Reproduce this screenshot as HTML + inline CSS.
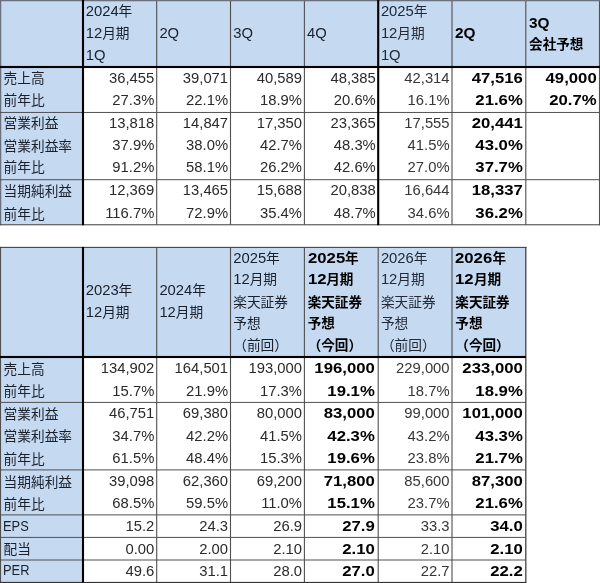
<!DOCTYPE html>
<html lang="ja"><head><meta charset="utf-8"><title>業績推移</title>
<style>
html,body{margin:0;padding:0;background:#fff}
body{width:600px;height:583px;position:relative;overflow:hidden;will-change:transform;font-family:"Liberation Sans","Noto Sans CJK JP",sans-serif;font-size:14.8px;color:#2a2a2a}
#grid{position:absolute;left:0;top:0}
.h,.n{position:absolute;white-space:nowrap;height:22px;line-height:22px}
.n{text-align:right}
.n.b{transform:scaleX(1.13);transform-origin:100% 50%}
.c{display:inline-block;transform:scaleX(0.87);transform-origin:0 50%}
.w{display:inline-block;transform:scaleX(1.13);transform-origin:0 50%}
.h{color:#1a202b}
.b{font-weight:bold;color:#000}
.l{color:#363636}
.h.l{color:#232936}
.j{font-family:"Liberation Sans","Noto Sans CJK JP",sans-serif;font-size:13.7px}
.b .j{font-size:13.6px}
</style></head><body>
<svg id="grid" width="600" height="583" viewBox="0 0 600 583"><rect x="0" y="0" width="599.5" height="67" fill="#c5d9f1"/><rect x="0" y="0" width="83" height="224.75" fill="#c5d9f1"/><rect x="156.14999999999998" y="0" width="1.1" height="224.75" fill="#505050"/><rect x="229.95" y="0" width="1.1" height="224.75" fill="#505050"/><rect x="303.84999999999997" y="0" width="1.1" height="224.75" fill="#505050"/><rect x="451.45" y="0" width="1.1" height="224.75" fill="#505050"/><rect x="525.25" y="0" width="1.1" height="224.75" fill="#505050"/><rect x="598.95" y="0" width="1.1" height="225.25" fill="#505050"/><rect x="-0.050000000000000044" y="0" width="1.3" height="225.25" fill="#6a717c"/><rect x="0" y="-0.050000000000000044" width="600" height="1.3" fill="#6a717c"/><rect x="0" y="111.95" width="600" height="1.0" fill="#505050"/><rect x="0" y="179.2" width="600" height="1.0" fill="#505050"/><rect x="0" y="224.2" width="600" height="1.1" fill="#505050"/><rect x="81.95" y="0" width="2.1" height="225.25" fill="#000"/><rect x="377.15" y="0" width="2.1" height="225.25" fill="#000"/><rect x="0" y="65.95" width="600" height="2.1" fill="#000"/><rect x="0" y="247.4" width="525.8" height="109.6" fill="#c5d9f1"/><rect x="0" y="247.4" width="83" height="335.05000000000007" fill="#c5d9f1"/><rect x="156.14999999999998" y="247.4" width="1.1" height="335.05000000000007" fill="#505050"/><rect x="229.95" y="247.4" width="1.1" height="335.05000000000007" fill="#505050"/><rect x="303.84999999999997" y="247.4" width="1.1" height="335.05000000000007" fill="#505050"/><rect x="377.65" y="247.4" width="1.1" height="335.05000000000007" fill="#505050"/><rect x="451.45" y="247.4" width="1.1" height="335.05000000000007" fill="#505050"/><rect x="525.15" y="246.9" width="1.3" height="335.55000000000007" fill="#444"/><rect x="-0.050000000000000044" y="246.9" width="1.1" height="335.55000000000007" fill="#505050"/><rect x="0" y="246.85" width="526.4" height="1.1" fill="#444"/><rect x="0" y="401.9" width="525.8" height="1.0" fill="#505050"/><rect x="0" y="469.4" width="525.8" height="1.0" fill="#505050"/><rect x="0" y="514.4" width="525.8" height="1.0" fill="#505050"/><rect x="0" y="536.9" width="525.8" height="1.0" fill="#505050"/><rect x="0" y="559.5" width="525.8" height="1.0" fill="#505050"/><rect x="0" y="581.9000000000001" width="526.4" height="1.1" fill="#333"/><rect x="81.95" y="246.9" width="2.1" height="335.55000000000007" fill="#000"/><rect x="0" y="355.95" width="525.8" height="2.1" fill="#000"/></svg>
<div class="h" style="left:85.7px;top:0px">2024<span class="j">年</span></div>
<div class="h" style="left:85.7px;top:22px">12<span class="j">月期</span></div>
<div class="h" style="left:85.7px;top:44px">1Q</div>
<div class="h" style="left:159.4px;top:22px">2Q</div>
<div class="h" style="left:233.2px;top:22px">3Q</div>
<div class="h" style="left:307.1px;top:22px">4Q</div>
<div class="h l" style="left:380.9px;top:0px">2025<span class="j">年</span></div>
<div class="h l" style="left:380.9px;top:22px">12<span class="j">月期</span></div>
<div class="h l" style="left:380.9px;top:44px">1Q</div>
<div class="h b" style="left:455.3px;top:22px"><span class="w" style="transform:scaleX(1.04);margin-right:0.79px">2Q</span></div>
<div class="h b" style="left:529.1px;top:12px"><span class="w" style="transform:scaleX(1.04);margin-right:0.79px">3Q</span></div>
<div class="h b" style="left:529.1px;top:33px"><span class="j">会社予想</span></div>
<div class="h" style="left:3.6px;top:67px"><span class="j">売上高</span></div>
<div class="n" style="left:83px;top:67px;width:71.30px">36,455</div>
<div class="n" style="left:156.7px;top:67px;width:71.40px">39,071</div>
<div class="n" style="left:230.5px;top:67px;width:71.50px">40,589</div>
<div class="n" style="left:304.4px;top:67px;width:71.40px">48,385</div>
<div class="n l" style="left:378.2px;top:67px;width:71.40px">42,314</div>
<div class="n b" style="left:452.0px;top:67px;width:70.80px">47,516</div>
<div class="n b" style="left:525.8px;top:67px;width:70.70px">49,000</div>
<div class="h" style="left:3.6px;top:89px"><span class="j">前年比</span></div>
<div class="n" style="left:83px;top:89px;width:71.30px">27.3%</div>
<div class="n" style="left:156.7px;top:89px;width:71.40px">22.1%</div>
<div class="n" style="left:230.5px;top:89px;width:71.50px">18.9%</div>
<div class="n" style="left:304.4px;top:89px;width:71.40px">20.6%</div>
<div class="n l" style="left:378.2px;top:89px;width:71.40px">16.1%</div>
<div class="n b" style="left:452.0px;top:89px;width:70.80px">21.6%</div>
<div class="n b" style="left:525.8px;top:89px;width:70.70px">20.7%</div>
<div class="h" style="left:3.6px;top:112px"><span class="j">営業利益</span></div>
<div class="n" style="left:83px;top:112px;width:71.30px">13,818</div>
<div class="n" style="left:156.7px;top:112px;width:71.40px">14,847</div>
<div class="n" style="left:230.5px;top:112px;width:71.50px">17,350</div>
<div class="n" style="left:304.4px;top:112px;width:71.40px">23,365</div>
<div class="n l" style="left:378.2px;top:112px;width:71.40px">17,555</div>
<div class="n b" style="left:452.0px;top:112px;width:70.80px">20,441</div>
<div class="h" style="left:3.6px;top:135px"><span class="j">営業利益率</span></div>
<div class="n" style="left:83px;top:134px;width:71.30px">37.9%</div>
<div class="n" style="left:156.7px;top:134px;width:71.40px">38.0%</div>
<div class="n" style="left:230.5px;top:134px;width:71.50px">42.7%</div>
<div class="n" style="left:304.4px;top:134px;width:71.40px">48.3%</div>
<div class="n l" style="left:378.2px;top:134px;width:71.40px">41.5%</div>
<div class="n b" style="left:452.0px;top:134px;width:70.80px">43.0%</div>
<div class="h" style="left:3.6px;top:156px"><span class="j">前年比</span></div>
<div class="n" style="left:83px;top:156px;width:71.30px">91.2%</div>
<div class="n" style="left:156.7px;top:156px;width:71.40px">58.1%</div>
<div class="n" style="left:230.5px;top:156px;width:71.50px">26.2%</div>
<div class="n" style="left:304.4px;top:156px;width:71.40px">42.6%</div>
<div class="n l" style="left:378.2px;top:156px;width:71.40px">27.0%</div>
<div class="n b" style="left:452.0px;top:156px;width:70.80px">37.7%</div>
<div class="h" style="left:3.6px;top:180px"><span class="j">当期純利益</span></div>
<div class="n" style="left:83px;top:179px;width:71.30px">12,369</div>
<div class="n" style="left:156.7px;top:179px;width:71.40px">13,465</div>
<div class="n" style="left:230.5px;top:179px;width:71.50px">15,688</div>
<div class="n" style="left:304.4px;top:179px;width:71.40px">20,838</div>
<div class="n l" style="left:378.2px;top:179px;width:71.40px">16,644</div>
<div class="n b" style="left:452.0px;top:179px;width:70.80px">18,337</div>
<div class="h" style="left:3.6px;top:203px"><span class="j">前年比</span></div>
<div class="n" style="left:83px;top:202px;width:71.30px">116.7%</div>
<div class="n" style="left:156.7px;top:202px;width:71.40px">72.9%</div>
<div class="n" style="left:230.5px;top:202px;width:71.50px">35.4%</div>
<div class="n" style="left:304.4px;top:202px;width:71.40px">48.7%</div>
<div class="n l" style="left:378.2px;top:202px;width:71.40px">34.6%</div>
<div class="n b" style="left:452.0px;top:202px;width:70.80px">36.2%</div>
<div class="h" style="left:85.7px;top:279px">2023<span class="j">年</span></div>
<div class="h" style="left:85.7px;top:301px">12<span class="j">月期</span></div>
<div class="h" style="left:159.4px;top:279px">2024<span class="j">年</span></div>
<div class="h" style="left:159.4px;top:301px">12<span class="j">月期</span></div>
<div class="h" style="left:233.2px;top:247px">2025<span class="j">年</span></div>
<div class="h" style="left:233.2px;top:268px">12<span class="j">月期</span></div>
<div class="h" style="left:233.2px;top:291px"><span class="j">楽天証券</span></div>
<div class="h" style="left:233.2px;top:312px"><span class="j">予想</span></div>
<div class="h" style="left:233.2px;top:334px"><span class="j">（前回）</span></div>
<div class="h b" style="left:307.7px;top:247px"><span class="w" style="margin-right:4.28px">2025</span><span class="j">年</span></div>
<div class="h b" style="left:307.7px;top:268px"><span class="w" style="margin-right:2.14px">12</span><span class="j">月期</span></div>
<div class="h b" style="left:307.7px;top:291px"><span class="j">楽天証券</span></div>
<div class="h b" style="left:307.7px;top:312px"><span class="j">予想</span></div>
<div class="h b" style="left:307.7px;top:334px"><span class="j">（今回）</span></div>
<div class="h l" style="left:380.9px;top:247px">2026<span class="j">年</span></div>
<div class="h l" style="left:380.9px;top:268px">12<span class="j">月期</span></div>
<div class="h l" style="left:380.9px;top:291px"><span class="j">楽天証券</span></div>
<div class="h l" style="left:380.9px;top:312px"><span class="j">予想</span></div>
<div class="h l" style="left:380.9px;top:334px"><span class="j">（前回）</span></div>
<div class="h b" style="left:455.3px;top:247px"><span class="w" style="margin-right:4.28px">2026</span><span class="j">年</span></div>
<div class="h b" style="left:455.3px;top:268px"><span class="w" style="margin-right:2.14px">12</span><span class="j">月期</span></div>
<div class="h b" style="left:455.3px;top:291px"><span class="j">楽天証券</span></div>
<div class="h b" style="left:455.3px;top:312px"><span class="j">予想</span></div>
<div class="h b" style="left:455.3px;top:334px"><span class="j">（今回）</span></div>
<div class="h" style="left:3.6px;top:358px"><span class="j">売上高</span></div>
<div class="n" style="left:83px;top:357px;width:71.30px">134,902</div>
<div class="n" style="left:156.7px;top:357px;width:71.40px">164,501</div>
<div class="n" style="left:230.5px;top:357px;width:71.50px">193,000</div>
<div class="n b" style="left:304.4px;top:357px;width:70.80px">196,000</div>
<div class="n l" style="left:378.2px;top:357px;width:71.40px">229,000</div>
<div class="n b" style="left:452.0px;top:357px;width:70.80px">233,000</div>
<div class="h" style="left:3.6px;top:380px"><span class="j">前年比</span></div>
<div class="n" style="left:83px;top:380px;width:71.30px">15.7%</div>
<div class="n" style="left:156.7px;top:380px;width:71.40px">21.9%</div>
<div class="n" style="left:230.5px;top:380px;width:71.50px">17.3%</div>
<div class="n b" style="left:304.4px;top:380px;width:70.80px">19.1%</div>
<div class="n l" style="left:378.2px;top:380px;width:71.40px">18.7%</div>
<div class="n b" style="left:452.0px;top:380px;width:70.80px">18.9%</div>
<div class="h" style="left:3.6px;top:403px"><span class="j">営業利益</span></div>
<div class="n" style="left:83px;top:402px;width:71.30px">46,751</div>
<div class="n" style="left:156.7px;top:402px;width:71.40px">69,380</div>
<div class="n" style="left:230.5px;top:402px;width:71.50px">80,000</div>
<div class="n b" style="left:304.4px;top:402px;width:70.80px">83,000</div>
<div class="n l" style="left:378.2px;top:402px;width:71.40px">99,000</div>
<div class="n b" style="left:452.0px;top:402px;width:70.80px">101,000</div>
<div class="h" style="left:3.6px;top:425px"><span class="j">営業利益率</span></div>
<div class="n" style="left:83px;top:425px;width:71.30px">34.7%</div>
<div class="n" style="left:156.7px;top:425px;width:71.40px">42.2%</div>
<div class="n" style="left:230.5px;top:425px;width:71.50px">41.5%</div>
<div class="n b" style="left:304.4px;top:425px;width:70.80px">42.3%</div>
<div class="n l" style="left:378.2px;top:425px;width:71.40px">43.2%</div>
<div class="n b" style="left:452.0px;top:425px;width:70.80px">43.3%</div>
<div class="h" style="left:3.6px;top:448px"><span class="j">前年比</span></div>
<div class="n" style="left:83px;top:447px;width:71.30px">61.5%</div>
<div class="n" style="left:156.7px;top:447px;width:71.40px">48.4%</div>
<div class="n" style="left:230.5px;top:447px;width:71.50px">15.3%</div>
<div class="n b" style="left:304.4px;top:447px;width:70.80px">19.6%</div>
<div class="n l" style="left:378.2px;top:447px;width:71.40px">23.8%</div>
<div class="n b" style="left:452.0px;top:447px;width:70.80px">21.7%</div>
<div class="h" style="left:3.6px;top:471px"><span class="j">当期純利益</span></div>
<div class="n" style="left:83px;top:470px;width:71.30px">39,098</div>
<div class="n" style="left:156.7px;top:470px;width:71.40px">62,360</div>
<div class="n" style="left:230.5px;top:470px;width:71.50px">69,200</div>
<div class="n b" style="left:304.4px;top:470px;width:70.80px">71,800</div>
<div class="n l" style="left:378.2px;top:470px;width:71.40px">85,600</div>
<div class="n b" style="left:452.0px;top:470px;width:70.80px">87,300</div>
<div class="h" style="left:3.6px;top:493px"><span class="j">前年比</span></div>
<div class="n" style="left:83px;top:492px;width:71.30px">68.5%</div>
<div class="n" style="left:156.7px;top:492px;width:71.40px">59.5%</div>
<div class="n" style="left:230.5px;top:492px;width:71.50px">11.0%</div>
<div class="n b" style="left:304.4px;top:492px;width:70.80px">15.1%</div>
<div class="n l" style="left:378.2px;top:492px;width:71.40px">23.7%</div>
<div class="n b" style="left:452.0px;top:492px;width:70.80px">21.6%</div>
<div class="h" style="left:3.4px;top:515px"><span class="c">EPS</span></div>
<div class="n" style="left:83px;top:515px;width:71.30px">15.2</div>
<div class="n" style="left:156.7px;top:515px;width:71.40px">24.3</div>
<div class="n" style="left:230.5px;top:515px;width:71.50px">26.9</div>
<div class="n b" style="left:304.4px;top:515px;width:70.80px">27.9</div>
<div class="n l" style="left:378.2px;top:515px;width:71.40px">33.3</div>
<div class="n b" style="left:452.0px;top:515px;width:70.80px">34.0</div>
<div class="h" style="left:3.6px;top:538px"><span class="j">配当</span></div>
<div class="n" style="left:83px;top:538px;width:71.30px">0.00</div>
<div class="n" style="left:156.7px;top:538px;width:71.40px">2.00</div>
<div class="n" style="left:230.5px;top:538px;width:71.50px">2.10</div>
<div class="n b" style="left:304.4px;top:538px;width:70.80px">2.10</div>
<div class="n l" style="left:378.2px;top:538px;width:71.40px">2.10</div>
<div class="n b" style="left:452.0px;top:538px;width:70.80px">2.10</div>
<div class="h" style="left:3.4px;top:559px"><span class="c">PER</span></div>
<div class="n" style="left:83px;top:560px;width:71.30px">49.6</div>
<div class="n" style="left:156.7px;top:560px;width:71.40px">31.1</div>
<div class="n" style="left:230.5px;top:560px;width:71.50px">28.0</div>
<div class="n b" style="left:304.4px;top:560px;width:70.80px">27.0</div>
<div class="n l" style="left:378.2px;top:560px;width:71.40px">22.7</div>
<div class="n b" style="left:452.0px;top:560px;width:70.80px">22.2</div>
</body></html>
